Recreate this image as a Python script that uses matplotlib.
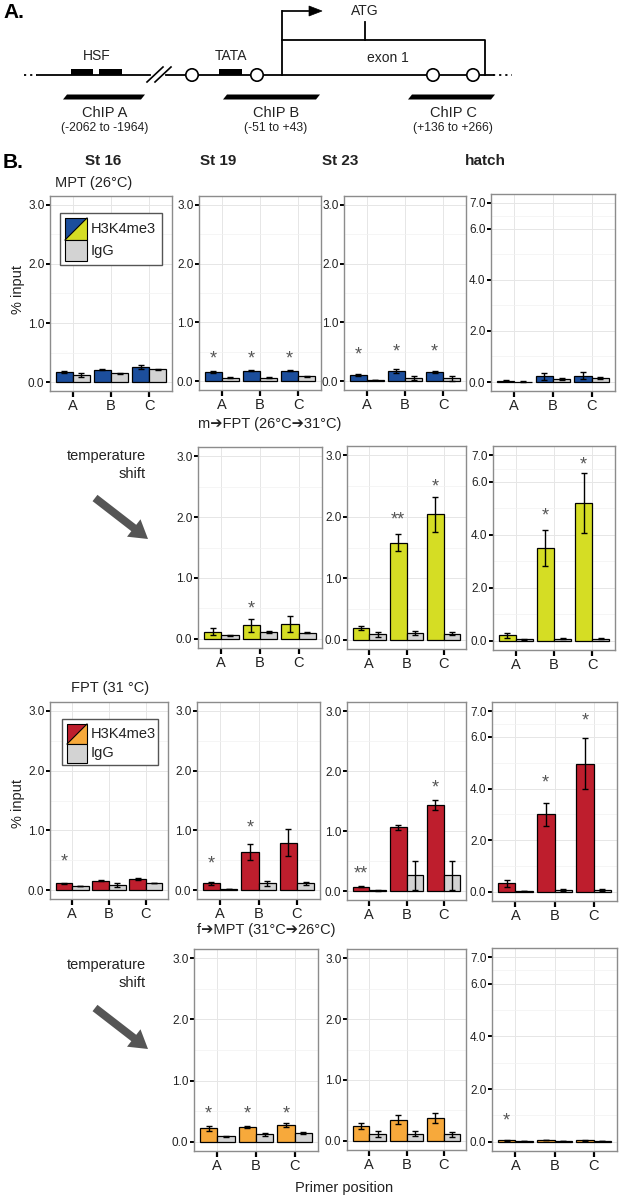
import matplotlib
matplotlib.use("Agg")
import matplotlib.pyplot as plt
from matplotlib.patches import Rectangle, Polygon, Circle, FancyArrow
import numpy as np

plt.rcParams["font.family"] = ["Liberation Sans", "DejaVu Sans"]

W, H = 620, 1199

positions = ["A", "B", "C"]
stages = ["St 16", "St 19", "St 23", "hatch"]

# MPT (26°C), blue
mpt_h3 = {"St 16": [0.17, 0.21, 0.26], "St 19": [0.15, 0.18, 0.18],
          "St 23": [0.11, 0.17, 0.15], "hatch": [0.06, 0.22, 0.25]}
mpt_h3_err = {"St 16": [0.02, 0.01, 0.03], "St 19": [0.015, 0.015, 0.015],
              "St 23": [0.02, 0.03, 0.015], "hatch": [0.02, 0.13, 0.14]}
mpt_igg = {"St 16": [0.12, 0.15, 0.22], "St 19": [0.06, 0.06, 0.08],
           "St 23": [0.02, 0.05, 0.05], "hatch": [0.02, 0.12, 0.15]}
mpt_igg_err = {"St 16": [0.04, 0.01, 0.01], "St 19": [0.01, 0.01, 0.01],
               "St 23": [0.005, 0.03, 0.04], "hatch": [0.005, 0.05, 0.05]}
mpt_stars = {"St 16": ["", "", ""], "St 19": ["*", "*", "*"],
             "St 23": ["*", "*", "*"], "hatch": ["", "", ""]}
mpt_star_y = {"St 16": [0, 0, 0], "St 19": [0.38, 0.38, 0.38],
              "St 23": [0.45, 0.5, 0.5], "hatch": [0, 0, 0]}

# m -> FPT (26°C -> 31°C), yellow
mfpt_h3 = {"St 19": [0.12, 0.22, 0.25], "St 23": [0.19, 1.58, 2.04], "hatch": [0.21, 3.5, 5.2]}
mfpt_h3_err = {"St 19": [0.06, 0.10, 0.13], "St 23": [0.03, 0.14, 0.28], "hatch": [0.10, 0.67, 1.12]}
mfpt_igg = {"St 19": [0.06, 0.11, 0.10], "St 23": [0.09, 0.11, 0.10], "hatch": [0.05, 0.07, 0.08]}
mfpt_igg_err = {"St 19": [0.01, 0.02, 0.01], "St 23": [0.04, 0.04, 0.03], "hatch": [0.02, 0.02, 0.02]}
mfpt_stars = {"St 19": ["", "*", ""], "St 23": ["", "**", "*"], "hatch": ["", "*", "*"]}
mfpt_star_y = {"St 19": [0, 0.49, 0], "St 23": [0, 1.94, 2.48], "hatch": [0, 4.7, 6.65]}

# FPT (31 °C), red
fpt_h3 = {"St 16": [0.11, 0.155, 0.18], "St 19": [0.11, 0.64, 0.79],
          "St 23": [0.07, 1.06, 1.43], "hatch": [0.33, 3.0, 4.97]}
fpt_h3_err = {"St 16": [0.005, 0.005, 0.02], "St 19": [0.02, 0.135, 0.225],
              "St 23": [0.01, 0.04, 0.085], "hatch": [0.15, 0.46, 0.97]}
fpt_igg = {"St 16": [0.07, 0.08, 0.12], "St 19": [0.02, 0.11, 0.11],
           "St 23": [0.01, 0.26, 0.26], "hatch": [0.03, 0.07, 0.09]}
fpt_igg_err = {"St 16": [0.005, 0.03, 0.003], "St 19": [0.005, 0.04, 0.03],
               "St 23": [0.005, 0.245, 0.245], "hatch": [0.01, 0.03, 0.04]}
fpt_stars = {"St 16": ["*", "", ""], "St 19": ["*", "*", ""],
             "St 23": ["**", "", "*"], "hatch": ["", "*", "*"]}
fpt_star_y = {"St 16": [0.47, 0, 0], "St 19": [0.44, 1.04, 0],
              "St 23": [0.28, 0, 1.72], "hatch": [0, 4.22, 6.6]}

# f -> MPT (31°C -> 26°C), orange
fmpt_h3 = {"St 19": [0.22, 0.245, 0.28], "St 23": [0.24, 0.35, 0.38], "hatch": [0.05, 0.06, 0.05]}
fmpt_h3_err = {"St 19": [0.04, 0.02, 0.03], "St 23": [0.05, 0.08, 0.08], "hatch": [0.01, 0.01, 0.01]}
fmpt_igg = {"St 19": [0.09, 0.12, 0.14], "St 23": [0.11, 0.12, 0.11], "hatch": [0.02, 0.04, 0.04]}
fmpt_igg_err = {"St 19": [0.01, 0.02, 0.02], "St 23": [0.05, 0.04, 0.04], "hatch": [0.005, 0.005, 0.005]}
fmpt_stars = {"St 19": ["*", "*", "*"], "St 23": ["", "", ""], "hatch": ["*", "", ""]}
fmpt_star_y = {"St 19": [0.45, 0.45, 0.45], "St 23": [0, 0, 0], "hatch": [0.77, 0, 0]}

BLUE, YELLOW, RED, ORANGE, GREY = "#1C4E9C", "#D5DD24", "#BE1E2D", "#F7A93B", "#D3D3D3"
TXT = "#222222"

fig = plt.figure(figsize=(W / 100, H / 100), dpi=100)

# panel boxes in pixels (x0, y0, x1, y1)
rows = [
    (mpt_h3, mpt_h3_err, mpt_igg, mpt_igg_err, mpt_stars, mpt_star_y, BLUE,
     {"St 16": (50, 196, 172, 391), "St 19": (199, 196, 321, 390),
      "St 23": (344, 196, 466, 390), "hatch": (491, 194, 615, 391)}),
    (mfpt_h3, mfpt_h3_err, mfpt_igg, mfpt_igg_err, mfpt_stars, mfpt_star_y, YELLOW,
     {"St 19": (198, 447, 322, 648), "St 23": (347, 446, 466, 649),
      "hatch": (493, 446, 615, 650)}),
    (fpt_h3, fpt_h3_err, fpt_igg, fpt_igg_err, fpt_stars, fpt_star_y, RED,
     {"St 16": (50, 702, 168, 899), "St 19": (197, 702, 320, 899),
      "St 23": (347, 702, 466, 900), "hatch": (492, 702, 617, 901)}),
    (fmpt_h3, fmpt_h3_err, fmpt_igg, fmpt_igg_err, fmpt_stars, fmpt_star_y, ORANGE,
     {"St 19": (194, 949, 318, 1151), "St 23": (347, 949, 466, 1150),
      "hatch": (492, 948, 617, 1151)}),
]


def draw_panel(box, h3, h3e, igg, igge, stars, stary, color, ymax):
    x0, y0, x1, y1 = box
    ax = fig.add_axes([x0 / W, 1 - y1 / H, (x1 - x0) / W, (y1 - y0) / H])
    x = np.arange(1, len(positions) + 1)
    bw = 0.45
    ax.bar(x - bw / 2, h3, bw, color=color, edgecolor="black", linewidth=0.9, zorder=3)
    ax.bar(x + bw / 2, igg, bw, color=GREY, edgecolor="black", linewidth=0.9, zorder=3)
    ax.errorbar(x - bw / 2, h3, yerr=h3e, fmt="none", ecolor="black",
                elinewidth=1.0, capsize=2, capthick=1.0, zorder=4)
    ax.errorbar(x + bw / 2, igg, yerr=igge, fmt="none", ecolor="black",
                elinewidth=1.0, capsize=2, capthick=1.0, zorder=4)
    for i, s in enumerate(stars):
        if s:
            ax.text(x[i] - bw / 2, stary[i], s, ha="center", va="center",
                    fontsize=13, color="#555555", zorder=5)
    if ymax == 3:
        major, minor = [0, 1, 2, 3], [0.5, 1.5, 2.5]
    else:
        major, minor = [0, 2, 4, 6, 7], [1, 3, 5, 6.5]
    ax.set_xlim(0.4, 3.6)
    ax.set_ylim(-0.05 * ymax, 1.05 * ymax)
    ax.set_xticks(x)
    ax.set_xticklabels(positions)
    ax.set_yticks(major)
    ax.set_yticklabels([f"{v:.1f}" for v in major])
    ax.set_yticks(minor, minor=True)
    ax.set_axisbelow(True)
    ax.grid(which="major", color="#E6E6E6", linewidth=0.7)
    ax.grid(which="minor", axis="y", color="#F2F2F2", linewidth=0.5)
    ax.tick_params(axis="y", which="major", length=3, width=1.4, color="black",
                   pad=1, labelsize=8.5, labelcolor=TXT)
    ax.tick_params(axis="y", which="minor", length=0)
    ax.tick_params(axis="x", length=4, width=1.6, color="black", pad=2,
                   labelsize=10.5, labelcolor=TXT)
    for sp in ax.spines.values():
        sp.set_color("#8C8C8C")
        sp.set_linewidth(1.0)
    return ax


for h3, h3e, igg, igge, stars, stary, color, boxes in rows:
    for st in stages:
        if st not in h3:
            continue
        ymax = 7 if st == "hatch" else 3
        draw_panel(boxes[st], h3[st], h3e[st], igg[st], igge[st], stars[st], stary[st], color, ymax)

# overlay in pixel coordinates for the schematic and texts
ov = fig.add_axes([0, 0, 1, 1])
ov.set_xlim(0, W)
ov.set_ylim(H, 0)
ov.axis("off")
ov.set_zorder(10)
ov.patch.set_visible(False)

# --- part A: gene schematic ---
LY = 75
ov.plot([37, 150], [LY, LY], color="black", lw=1.3)
ov.plot([166, 493], [LY, LY], color="black", lw=1.3)
ov.plot([24, 37], [LY, LY], color="black", lw=1.3, ls=(0, (1.2, 2.2)))
ov.plot([493, 512], [LY, LY], color="black", lw=1.3, ls=(0, (1.2, 2.2)))
ov.plot([147, 163], [82, 67], color="black", lw=1.2)
ov.plot([155, 171], [82, 67], color="black", lw=1.2)
for bx0, bx1 in [(71, 93), (99, 122), (219, 242)]:
    ov.add_patch(Rectangle((bx0, 69), bx1 - bx0, 6, fc="black", ec="none", zorder=3))
for cx in [192, 257, 433, 473]:
    ov.add_patch(Circle((cx, LY), 6.2, fc="white", ec="black", lw=1.2, zorder=4))
# TSS arrow
ov.plot([282, 282], [LY, 11], color="black", lw=1.3)
ov.add_patch(FancyArrow(282, 11, 40, 0, width=1.1, head_width=10, head_length=13,
                        length_includes_head=True, fc="black", ec="black", lw=0.5))
# exon bracket
ov.plot([282, 485, 485], [40, 40, LY], color="black", lw=1.3)
ov.plot([365, 365], [40, 22], color="black", lw=1.3)
ov.text(365, 11, "ATG", ha="center", va="center", fontsize=10, color=TXT)
ov.text(388, 58, "exon 1", ha="center", va="center", fontsize=10, color=TXT)
ov.text(97, 56, "HSF", ha="center", va="center", fontsize=10, color=TXT)
ov.text(231, 56, "TATA", ha="center", va="center", fontsize=10, color=TXT)
for cx0, cx1, name, rng, tx in [(63, 145, "ChIP A", "(-2062 to -1964)", 105),
                                (223, 320, "ChIP B", "(-51 to +43)", 276),
                                (408, 495, "ChIP C", "(+136 to +266)", 453)]:
    ov.add_patch(Polygon([(cx0, 99.5), (cx0 + 4, 94.5), (cx1, 94.5), (cx1 - 4, 99.5)],
                         closed=True, fc="black", ec="none"))
    ov.text(tx, 113, name, ha="center", va="center", fontsize=10.5, color=TXT)
    ov.text(tx, 128, rng, ha="center", va="center", fontsize=8.8, color=TXT)
ov.text(3, 13, "A.", ha="left", va="center", fontsize=15, fontweight="bold", color="black")

# --- part B: labels ---
ov.text(3, 162, "B.", ha="left", va="center", fontsize=15, fontweight="bold", color="black")
for st, tx in zip(stages, [103, 218, 340, 485]):
    ov.text(tx, 161, st, ha="center", va="center", fontsize=11, fontweight="bold", color=TXT)
ov.text(94, 183, "MPT (26°C)", ha="center", va="center", fontsize=10.5, color=TXT)
ov.text(270, 424, "m➔FPT (26°C➔31°C)", ha="center", va="center", fontsize=10.5, color=TXT)
ov.text(110, 688, "FPT (31 °C)", ha="center", va="center", fontsize=10.5, color=TXT)
ov.text(266, 930, "f➔MPT (31°C➔26°C)", ha="center", va="center", fontsize=10.5, color=TXT)
ov.text(18, 290, "% input", ha="center", va="center", rotation=90, fontsize=10.5, color=TXT)
ov.text(18, 803, "% input", ha="center", va="center", rotation=90, fontsize=10.5, color=TXT)
ov.text(344, 1188, "Primer position", ha="center", va="center", fontsize=10.5, color=TXT)

for ty, ay in [(456, 498), (965, 1008)]:
    ov.text(146, ty, "temperature", ha="right", va="center", fontsize=10.5, color=TXT)
    ov.text(146, ty + 18, "shift", ha="right", va="center", fontsize=10.5, color=TXT)
    ov.add_patch(FancyArrow(95, ay, 53, 41, width=8, head_width=22, head_length=18,
                            length_includes_head=True, fc="#555555", ec="none"))


def legend(x0, y0, w, h, k, kh1, kh2, c1, c2, ty1, ty2):
    ov.add_patch(Rectangle((x0, y0), w, h, fc="white", ec="#555555", lw=1.0))
    kx, ky = x0 + 5, y0 + 5
    ov.add_patch(Polygon([(kx, ky), (kx + k, ky), (kx, ky + kh1)], closed=True, fc=c1, ec="none"))
    ov.add_patch(Polygon([(kx + k, ky), (kx + k, ky + kh1), (kx, ky + kh1)], closed=True, fc=c2, ec="none"))
    ov.plot([kx, kx + k], [ky + kh1, ky], color="black", lw=0.8)
    ov.add_patch(Rectangle((kx, ky), k, kh1, fc="none", ec="black", lw=0.8))
    ov.add_patch(Rectangle((kx, ky + kh1), k, kh2, fc=GREY, ec="black", lw=0.8))
    ov.text(kx + k + 4, ty1, "H3K4me3", ha="left", va="center", fontsize=10.5, color=TXT)
    ov.text(kx + k + 4, ty2, "IgG", ha="left", va="center", fontsize=10.5, color=TXT)


legend(60, 213, 102, 52, 22, 22, 21, BLUE, YELLOW, 229, 251)
legend(62, 719, 96, 46, 20, 20, 19, RED, ORANGE, 734, 753)

fig.savefig("out.png", dpi=100)
